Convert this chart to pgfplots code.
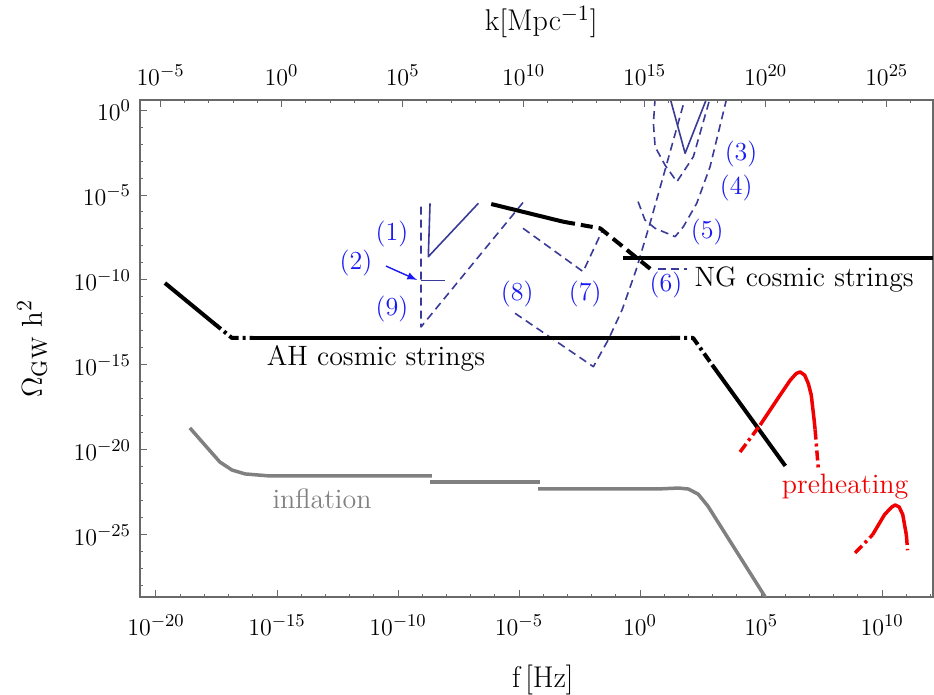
\documentclass[border=0pt]{standalone}
\usepackage{pgfplots}
\pgfplotsset{compat=1.18}
\definecolor{det}{RGB}{58,58,152}
\definecolor{lab}{RGB}{25,25,245}
\definecolor{infl}{RGB}{128,128,128}
\definecolor{frm}{RGB}{105,105,105}
\definecolor{pre}{RGB}{240,0,0}
\tikzset{
  detd/.style={det, line width=0.8pt, dash pattern=on 4pt off 2.5pt},
  dets/.style={det, line width=0.8pt},
  bks/.style={black, line width=2pt},
  bkd/.style={black, line width=2pt, dash pattern=on 6pt off 3pt},
  bkdd/.style={black, line width=2pt, dash pattern=on 5pt off 2pt on 1.5pt off 2pt},
  rds/.style={pre, line width=1.75pt},
  rdd/.style={pre, line width=1.75pt, dash pattern=on 5pt off 2pt on 1.5pt off 2pt},
  gr/.style={infl, line width=1.75pt},
  txt/.style={font=\fontsize{14}{16}\selectfont},
  num/.style={font=\fontsize{13}{15}\selectfont, text=lab},
}
\begin{document}
\begin{tikzpicture}[x=1pt,y=1pt]
\useasboundingbox (-70,-49) rectangle (397,298.5);
\begin{axis}[
  at={(0,0)}, anchor=south west,
  scale only axis, width=396.5pt, height=248.5pt,
  xmin=-20.66, xmax=12.1, ymin=-28.65, ymax=0.59,
  axis line style={frm, line width=0.6pt},
  every tick/.style={frm, line width=0.5pt},
  major tick length=3.5pt, minor tick length=1.5pt,
  xtick pos=left, ytick pos=left,
  xtick={-20,-15,-10,-5,0,5,10},
  xticklabels={$10^{-20}$,$10^{-15}$,$10^{-10}$,$10^{-5}$,$10^{0}$,$10^{5}$,$10^{10}$},
  minor xtick={-20,-19,...,12},
  ytick={-25,-20,-15,-10,-5,0},
  yticklabels={$10^{-25}$,$10^{-20}$,$10^{-15}$,$10^{-10}$,$10^{-5}$,$10^{0}$},
  minor ytick={-28,-27,...,0},
  tick label style={font=\fontsize{13}{15}\selectfont},
  xticklabel style={anchor=center, yshift=-14pt},
  yticklabel style={anchor=east, xshift=-1pt},
  xlabel={f\,[Hz]},
  ylabel={$\Omega_{\mathrm{GW}}\ \mathrm{h}^2$},
  label style={font=\fontsize{15}{17}\selectfont},
  xlabel style={at={(axis description cs:0.508,0)}, anchor=center, yshift=-41.5pt},
  ylabel style={at={(axis description cs:-0.136,0.5)}, anchor=center},
  no markers,
  every axis plot/.append style={line join=round, line cap=butt},
]
% inflation
\addplot[gr] coordinates {(-18.6,-18.7) (-17.98,-19.71) (-17.36,-20.71) (-16.86,-21.18) (-16.32,-21.41) (-15.29,-21.53) (-8.6,-21.53)};
\addplot[gr] coordinates {(-8.68,-21.88) (-4.13,-21.88)};
\addplot[gr] coordinates {(-4.21,-22.29) (0.8,-22.29) (1.6,-22.24) (2.0,-22.3) (2.4,-22.6) (2.8,-23.3) (5.17,-28.65) (6.0,-30.5)};
% detectors
\addplot[dets] coordinates {(-8.678,-5.49) (-8.75,-8.63) (-6.682,-5.49)};
\addplot[dets] coordinates {(-9.05,-10.04) (-8.06,-10.04)};
\addplot[detd] coordinates {(-9.05,-5.69) (-9.05,-12.76) (-4.75,-5.29)};
\addplot[detd] coordinates {(-4.835,-6.96) (-2.355,-9.51) (-1.583,-7.16)};
\addplot[detd] coordinates {(-5.165,-11.96) (-1.93,-15.1) (-1.32,-13.53) (-0.744,-11.76) (-0.165,-9.41) (0.413,-6.65) (1.03,-3.53) (1.86,0.7)};
\addplot[detd] coordinates {(0.756,-9.37) (1.93,-9.37)};
\addplot[detd] coordinates {(-0.083,-5.39) (0.2,-6.47) (0.62,-6.96) (1.446,-7.45) (1.79,-6.86) (2.34,-5.49) (2.89,-3.34) (3.58,0.7)};
\addplot[detd] coordinates {(0.62,0.7) (0.55,-0.78) (0.62,-2.16) (1.03,-3.24) (1.52,-4.22) (2.2,-2.75) (2.89,0.7)};
\addplot[dets] coordinates {(1.24,0.7) (1.86,-2.55) (2.756,0.7)};
% AH cosmic strings
\addplot[bks] coordinates {(-19.63,-10.18) (-17.64,-12.51)};
\addplot[bkdd] coordinates {(-17.64,-12.51) (-16.86,-13.41) (-15.99,-13.41)};
\addplot[bks] coordinates {(-15.99,-13.41) (1.24,-13.41)};
\addplot[bkdd] coordinates {(1.24,-13.41) (2.19,-13.41) (2.98,-15.0)};
\addplot[bks] coordinates {(2.98,-15.0) (6.0,-20.94)};
% NG cosmic strings
\addplot[bks] coordinates {(-6.15,-5.53) (-3.18,-6.57)};
\addplot[bkd] coordinates {(-3.18,-6.57) (-1.65,-6.96) (0.48,-9.41)};
\addplot[bks] coordinates {(-0.69,-8.72) (12.1,-8.72)};
% preheating
\addplot[rdd] coordinates {(4.13,-20.12) (4.96,-18.53)};
\addplot[rds] coordinates {(4.96,-18.53) (5.79,-16.76) (6.2,-15.9) (6.45,-15.5) (6.61,-15.41) (6.8,-15.6) (6.95,-16.1) (7.07,-16.76) (7.19,-18.24) (7.23,-18.8)};
\addplot[rdd] coordinates {(7.23,-18.8) (7.36,-21.06)};
\addplot[rdd] coordinates {(8.88,-26.06) (9.6,-25.0)};
\addplot[rds] coordinates {(9.6,-25.0) (10.1,-23.8) (10.4,-23.35) (10.54,-23.24) (10.7,-23.35) (10.85,-23.8) (10.95,-24.6) (11.0,-25.0)};
\addplot[rdd] coordinates {(11.0,-25.0) (11.05,-25.9)};
% labels
\node[txt] at (axis cs:-10.91,-14.59) {AH cosmic strings};
\node[txt] at (axis cs:6.78,-10.0) {NG cosmic strings};
\node[txt, text=infl] at (axis cs:-13.14,-22.88) {inflation};
\node[txt, text=pre] at (axis cs:8.47,-22.18) {preheating};
\node[num] at (axis cs:-10.25,-7.29) {(1)};
\node[num] at (axis cs:-11.74,-9.0) {(2)};
\node[num] at (axis cs:-10.25,-11.7) {(9)};
\node[num] at (axis cs:-5.08,-10.82) {(8)};
\node[num] at (axis cs:-2.27,-10.82) {(7)};
\node[num] at (axis cs:1.07,-10.29) {(6)};
\node[num] at (axis cs:2.77,-7.18) {(5)};
\node[num] at (axis cs:3.97,-4.59) {(4)};
\node[num] at (axis cs:4.17,-2.59) {(3)};
\draw[lab, line width=0.7pt, -latex] (axis cs:-10.5,-9.18) -- (axis cs:-9.21,-10.0);
\end{axis}
\begin{axis}[
  at={(0,0)}, anchor=south west,
  scale only axis, width=396.5pt, height=248.5pt,
  xmin=-5.85, xmax=26.91, ymin=0, ymax=1,
  axis x line*=top, axis y line=none,
  axis line style={frm, line width=0.6pt},
  every tick/.style={frm, line width=0.5pt},
  major tick length=3.5pt, minor tick length=1.5pt,
  xtick={-5,0,5,10,15,20,25},
  xticklabels={$10^{-5}$,$10^{0}$,$10^{5}$,$10^{10}$,$10^{15}$,$10^{20}$,$10^{25}$},
  minor xtick={-5,-4,...,26},
  tick label style={font=\fontsize{13}{15}\selectfont},
  xticklabel style={anchor=center, yshift=12.5pt},
  xlabel={k$[$Mpc$^{-1}]$},
  label style={font=\fontsize{15}{17}\selectfont},
  xlabel style={at={(axis description cs:0.506,1)}, anchor=center, yshift=39pt},
]
\end{axis}
\end{tikzpicture}
\end{document}
